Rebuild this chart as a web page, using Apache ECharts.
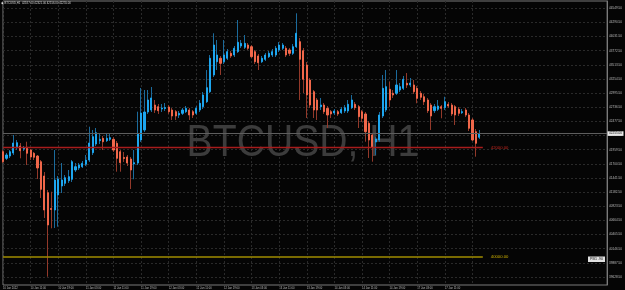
<!DOCTYPE html>
<html>
<head>
<meta charset="utf-8">
<script src="https://cdn.jsdelivr.net/npm/echarts@6/dist/echarts.min.js"></script>
<style>
html,body{margin:0;padding:0;background:#050505;}
#chart{width:625px;height:290px;}
</style>
</head>
<body>
<div id="chart"></div>
<script>
// ---- data (BTCUSD, H1) ----
const slotCount = 176; // chart slots incl. empty right shift
const xLabels = ["10 Jan 2022","10 Jan 11:00","10 Jan 19:00","11 Jan 03:00","11 Jan 11:00","11 Jan 19:00",
  "12 Jan 03:00","12 Jan 11:00","12 Jan 19:00","13 Jan 03:00","13 Jan 11:00","13 Jan 19:00",
  "14 Jan 03:00","14 Jan 11:00","14 Jan 19:00","17 Jan 03:00","17 Jan 11:00","17 Jan 19:00"];
const opens = [41923,41802,41844,41899,42009,42027,41972,42004,41954,41894,41844,41740,41478,41172,40883,40855,41130,41295,41344,41392,
  41418,41588,41625,41648,41692,41771,41905,42064,42125,42168,42125,42150,42150,42077,41923,41817,41826,41789,41698,41716,
  42137,42321,42650,42687,42778,42747,42705,42714,42742,42687,42656,42595,42626,42656,42687,42656,42626,42687,42747,42839,
  43022,43328,43571,43634,43571,43634,43725,43694,43755,43859,43835,43877,43846,43755,43676,43571,43615,43663,43694,43694,
  43786,43817,43817,43786,43725,43846,43938,43773,43511,43236,43022,42870,42747,42778,42718,42656,42632,42656,42637,42669,
  42669,42729,42791,42747,42656,42614,42443,42229,42101,42137,42577,42687,43066,42993,42993,43053,43084,43176,43145,43145,
  43084,42993,42930,42870,42778,42674,42700,42747,42729,42791,42778,42747,42700,42637,42687,42595,42504,42289,42187];
const closes = [41740,41863,41923,42082,42088,41941,41991,41894,41826,41821,41625,41234,40855,40581,40865,41405,41423,41405,41447,41465,
  41740,41648,41679,41711,41771,42082,42198,42271,42150,42106,42168,42180,41954,41802,41722,41799,41716,41588,41722,42247,
  42632,42650,42870,42907,42687,42674,42724,42733,42656,42577,42577,42626,42687,42718,42595,42595,42718,42810,42962,43095,
  43634,43877,43694,43542,43694,43755,43676,43817,43927,43908,43908,43817,43663,43571,43553,43634,43694,43725,43755,43817,
  43877,43877,43694,43725,43846,44092,43615,43249,42962,42778,42687,42687,42778,42656,42595,42614,42669,42614,42700,42729,
  42791,42870,42729,42564,42535,42289,42137,42004,42156,42595,43084,43114,42870,42962,43145,43114,43249,43145,43181,43022,
  42901,42920,42839,42674,42577,42747,42760,42718,42839,42760,42614,42595,42626,42656,42595,42352,42137,42077,42255];
const lows = [41716,41771,41808,41863,41954,41802,41936,41679,41771,41771,41423,41075,40709,39634,40520,40526,40550,41167,41295,41350,
  41368,41551,41588,41625,41661,41735,41863,42027,42064,41954,42101,42119,41918,41557,41557,41735,41661,41240,41418,41679,
  42101,42284,42614,42650,42632,42614,42650,42669,42614,42504,42504,42540,42595,42632,42504,42540,42595,42650,42705,42815,
  42998,43291,43419,43328,43529,43603,43639,43657,43731,43822,43804,43786,43639,43529,43419,43548,43584,43639,43657,43657,
  43749,43786,43657,43676,43694,43822,42870,42998,42540,42724,42540,42504,42687,42614,42357,42540,42595,42577,42614,42632,
  42632,42705,42687,42357,42467,42106,41808,41740,41863,42101,42540,42650,42747,42907,42962,43017,43053,43090,43108,42980,
  42810,42870,42778,42632,42321,42632,42669,42535,42687,42724,42577,42412,42577,42614,42559,42302,42119,41832,42156];
const highs = [41954,41899,41954,42229,42137,42082,42027,42106,41972,41918,41863,41771,41551,41222,41190,41954,41478,41716,41496,41588,
  41771,41716,41716,41753,41863,42381,42321,42357,42247,42211,42266,42247,42192,42119,41954,41918,41863,41826,41954,42656,
  43090,43053,43053,43108,42870,42797,42797,42815,42778,42724,42687,42669,42724,42760,42724,42687,42760,42870,43017,43419,
  43694,44092,43969,43676,43969,43804,43767,43859,44335,43969,44060,43914,43877,43786,43712,43676,43731,43767,43804,43859,
  43932,43914,43859,43822,43896,44458,44006,43822,43566,43273,43053,42907,42907,42815,42760,42687,42705,42687,42742,42778,
  42870,42962,42833,42778,42687,42650,42485,42266,42192,42650,43328,43419,43205,43053,43419,43181,43310,43364,43273,43236,
  43126,43035,42980,42907,42815,42797,42870,42778,42930,42833,42815,42778,42742,42705,42724,42632,42540,42339,42321];
const yTicks = [44549.50,44290.50,44031.50,43772.50,43513.50,43254.50,42995.50,42736.50,42477.50,42218.50,
  41959.50,41700.50,41441.50,41182.50,40923.50,40664.50,40405.50,40146.50,39887.50,39628.50];
const yMin = 39482, yMax = 44683;
const redLevel = 42000, yellowLevel = 40000;
const levelEndSlot = 139;
const symbolName = "BTCUSD, H1";
const headerSymbol = "BTCUSD,H1";
const pb1Text = "PB1 .90";

// ---- build ----
const cats = Array.from({length: slotCount}, (_, i) => String(i));
const n = opens.length;
const last = n - 1;
const lastPrice = closes[last];
const wickData = opens.map((o, i) => [o, closes[i], lows[i], highs[i]]);
const bodyData = opens.map((o, i) => [o, closes[i], Math.min(o, closes[i]), Math.max(o, closes[i])]);
const labelIdx = (idx) => idx % 8 === 0 && idx / 8 < xLabels.length;

const BULL = '#1da6ef', BEAR = '#f0674a', BULLW = '#1b6b9c', BEARW = '#93392a';
const FONT = 'Liberation Sans';
const gridLine = {color: '#2a2a2a', width: 1, type: [2, 2]};

const chart = echarts.init(document.getElementById('chart'), null, {renderer: 'canvas'});
chart.setOption({
  animation: false,
  backgroundColor: '#050505',
  grid: {left: 0.5, right: 17.25, top: 1, bottom: 5, show: true, borderColor: '#7a7a7a', borderWidth: 1, backgroundColor: 'transparent'},
  xAxis: {
    type: 'category', data: cats, boundaryGap: false,
    axisLine: {show: false}, axisTick: {show: false},
    axisLabel: {
      interval: (idx) => labelIdx(idx),
      formatter: (v, idx) => xLabels[idx / 8] || '',
      fontSize: 2.7, fontFamily: FONT, color: '#bdbdbd', align: 'left', margin: 1.3,
      showMinLabel: true, showMaxLabel: false, hideOverlap: false
    },
    splitLine: {show: true, interval: (idx) => labelIdx(idx), lineStyle: gridLine}
  },
  yAxis: {
    type: 'value', position: 'right', min: yMin, max: yMax, scale: true,
    axisLine: {show: true, lineStyle: {color: '#7a7a7a', width: 1}},
    axisTick: {show: false, customValues: yTicks},
    axisLabel: {customValues: yTicks, formatter: (v) => v.toFixed(2), fontSize: 3.1, fontFamily: FONT, color: '#bdbdbd', margin: 2},
    splitLine: {show: true, lineStyle: gridLine}
  },
  series: [
    {
      type: 'candlestick', name: 'wick', data: wickData, barWidth: 1, z: 3,
      itemStyle: {color: BULLW, color0: BEARW, borderColor: BULLW, borderColor0: BEARW, borderWidth: 1},
      silent: true
    },
    {
      type: 'candlestick', name: 'body', data: bodyData, barWidth: 1.6, z: 4,
      itemStyle: {color: BULL, color0: BEAR, borderColor: BULL, borderColor0: BEAR, borderWidth: 1},
      silent: true,
      markLine: {
        silent: true, symbol: ['none', 'none'], animation: false,
        data: [
          [{coord: [0, redLevel], lineStyle: {color: '#a81c1c', width: 1.4, type: 'solid'},
            label: {show: true, position: 'end', distance: 8, formatter: redLevel.toFixed(2), color: '#c8261e', fontSize: 4.2, fontFamily: FONT}},
           {coord: [levelEndSlot, redLevel]}],
          [{coord: [0, yellowLevel], lineStyle: {color: '#a08c00', width: 1.5, type: 'solid'},
            label: {show: true, position: 'end', distance: 8, formatter: yellowLevel.toFixed(2), color: '#d2b400', fontSize: 4.2, fontFamily: FONT}},
           {coord: [levelEndSlot, yellowLevel]}],
          {yAxis: lastPrice, lineStyle: {color: '#5e5e5e', width: 1, type: 'solid'},
           label: {show: true, position: 'end', distance: 0.5, formatter: lastPrice.toFixed(2), color: '#111', backgroundColor: '#e8e8e8',
                   padding: [0.8, 1.5], fontSize: 3.1, fontFamily: FONT}}
        ]
      }
    }
  ],
  graphic: [
    {type: 'text', z: 1, silent: true, x: 303, y: 144, scaleX: 0.87,
     style: {text: symbolName, font: '45px "Liberation Sans"', fill: '#3c3c3c', align: 'center', verticalAlign: 'middle'}},
    {type: 'rect', z: 10, silent: true, shape: {x: 1.5, y: 2.3, width: 1.6, height: 1.8}, style: {fill: '#e0e0e0'}},
    {type: 'text', z: 10, silent: true, x: 4.5, y: 3.3,
     style: {text: headerSymbol + '  ' + [opens[last], highs[last], lows[last], closes[last]].map(v => v.toFixed(2)).join(' '),
             font: '2.8px "Liberation Sans"', fill: '#d8d8d8', verticalAlign: 'middle'}},
    {type: 'rect', z: 10, silent: true, shape: {x: 588, y: 256.5, width: 17, height: 5.5}, style: {fill: '#e0e0e0'}},
    {type: 'text', z: 11, silent: true, x: 596.5, y: 259.3,
     style: {text: pb1Text, font: '3.6px "Liberation Sans"', fill: '#111', align: 'center', verticalAlign: 'middle'}}
  ]
});
</script>
</body>
</html>
